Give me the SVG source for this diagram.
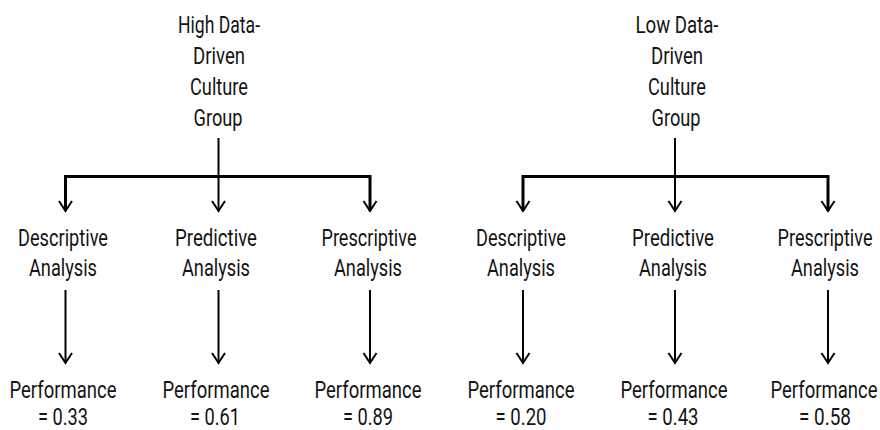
<svg xmlns="http://www.w3.org/2000/svg" width="880" height="430" viewBox="0 0 880 430">
<style>
text{font-family:Roboto,"Liberation Sans",sans-serif;font-size:24px;fill:#141414;text-anchor:middle}
.c{stroke:#000;stroke-width:2;fill:none}
.bar{stroke:#000;stroke-width:3;fill:none}
</style>
<defs>
<marker id="ah" viewBox="-12 -8 14 16" markerWidth="14" markerHeight="16" refX="0" refY="0" markerUnits="userSpaceOnUse" orient="auto">
<path d="M-10,-6.5 L0,0 L-10,6.5" fill="none" stroke="#000" stroke-width="2"/>
</marker>
</defs>
<rect width="880" height="430" fill="#fff"/>
<g id="connectors">
<line class="c" x1="218.5" y1="138" x2="218.5" y2="176"/>
<polyline class="bar" points="65.5,211 65.5,176.5 370,176.5 370,211"/>
<line class="c" x1="65.5" y1="178" x2="65.5" y2="211" marker-end="url(#ah)"/>
<line class="c" x1="218.5" y1="176" x2="218.5" y2="211" marker-end="url(#ah)"/>
<line class="c" x1="370" y1="178" x2="370" y2="211" marker-end="url(#ah)"/>
<line class="c" x1="675" y1="138" x2="675" y2="176"/>
<polyline class="bar" points="523,211 523,176.5 828,176.5 828,211"/>
<line class="c" x1="523" y1="178" x2="523" y2="211" marker-end="url(#ah)"/>
<line class="c" x1="675" y1="176" x2="675" y2="211" marker-end="url(#ah)"/>
<line class="c" x1="828" y1="178" x2="828" y2="211" marker-end="url(#ah)"/>
<line class="c" x1="65.5" y1="290" x2="65.5" y2="363" marker-end="url(#ah)"/>
<line class="c" x1="218.5" y1="290" x2="218.5" y2="363" marker-end="url(#ah)"/>
<line class="c" x1="370" y1="290" x2="370" y2="363" marker-end="url(#ah)"/>
<line class="c" x1="523" y1="290" x2="523" y2="363" marker-end="url(#ah)"/>
<line class="c" x1="675" y1="290" x2="675" y2="363" marker-end="url(#ah)"/>
<line class="c" x1="828" y1="290" x2="828" y2="363" marker-end="url(#ah)"/>
</g>
<g id="high-group">
<text x="219" y="33" textLength="82" lengthAdjust="spacingAndGlyphs">High Data-</text>
<text x="219" y="64" textLength="52" lengthAdjust="spacingAndGlyphs">Driven</text>
<text x="219" y="95" textLength="58" lengthAdjust="spacingAndGlyphs">Culture</text>
<text x="218" y="126" textLength="49" lengthAdjust="spacingAndGlyphs">Group</text>
</g>
<g id="low-group">
<text x="677" y="33" textLength="83" lengthAdjust="spacingAndGlyphs">Low Data-</text>
<text x="677" y="64" textLength="52" lengthAdjust="spacingAndGlyphs">Driven</text>
<text x="677" y="95" textLength="58" lengthAdjust="spacingAndGlyphs">Culture</text>
<text x="676" y="126" textLength="49" lengthAdjust="spacingAndGlyphs">Group</text>
</g>
<g id="high-descriptive">
<text x="63" y="246" textLength="90" lengthAdjust="spacingAndGlyphs">Descriptive</text>
<text x="63" y="276" textLength="68" lengthAdjust="spacingAndGlyphs">Analysis</text>
</g>
<g id="high-predictive">
<text x="216" y="246" textLength="82" lengthAdjust="spacingAndGlyphs">Predictive</text>
<text x="216" y="276" textLength="68" lengthAdjust="spacingAndGlyphs">Analysis</text>
</g>
<g id="high-prescriptive">
<text x="369" y="246" textLength="95" lengthAdjust="spacingAndGlyphs">Prescriptive</text>
<text x="368" y="276" textLength="68" lengthAdjust="spacingAndGlyphs">Analysis</text>
</g>
<g id="low-descriptive">
<text x="521" y="246" textLength="90" lengthAdjust="spacingAndGlyphs">Descriptive</text>
<text x="521" y="276" textLength="68" lengthAdjust="spacingAndGlyphs">Analysis</text>
</g>
<g id="low-predictive">
<text x="673" y="246" textLength="82" lengthAdjust="spacingAndGlyphs">Predictive</text>
<text x="673" y="276" textLength="68" lengthAdjust="spacingAndGlyphs">Analysis</text>
</g>
<g id="low-prescriptive">
<text transform="translate(825,246) scale(0.764,1)" x="0" y="0" textLength="124.3" lengthAdjust="spacingAndGlyphs">Prescriptive</text>
<text x="825" y="276" textLength="68" lengthAdjust="spacingAndGlyphs">Analysis</text>
</g>
<g id="high-perf-desc">
<text x="63" y="398" textLength="107" lengthAdjust="spacingAndGlyphs">Performance</text>
<text x="63" y="425" textLength="50" lengthAdjust="spacingAndGlyphs">= 0.33</text>
</g>
<g id="high-perf-pred">
<text x="216" y="398" textLength="107" lengthAdjust="spacingAndGlyphs">Performance</text>
<text x="215" y="425" textLength="50" lengthAdjust="spacingAndGlyphs">= 0.61</text>
</g>
<g id="high-perf-presc">
<text x="368" y="398" textLength="107" lengthAdjust="spacingAndGlyphs">Performance</text>
<text x="368" y="425" textLength="50" lengthAdjust="spacingAndGlyphs">= 0.89</text>
</g>
<g id="low-perf-desc">
<text x="521" y="398" textLength="107" lengthAdjust="spacingAndGlyphs">Performance</text>
<text x="521" y="425" textLength="51" lengthAdjust="spacingAndGlyphs">= 0.20</text>
</g>
<g id="low-perf-pred">
<text x="674" y="398" textLength="107" lengthAdjust="spacingAndGlyphs">Performance</text>
<text x="673" y="425" textLength="51" lengthAdjust="spacingAndGlyphs">= 0.43</text>
</g>
<g id="low-perf-presc">
<text transform="translate(824,398) scale(0.785,1)" x="0" y="0" textLength="136.3" lengthAdjust="spacingAndGlyphs">Performance</text>
<text x="825" y="425" textLength="52" lengthAdjust="spacingAndGlyphs">= 0.58</text>
</g>
</svg>
